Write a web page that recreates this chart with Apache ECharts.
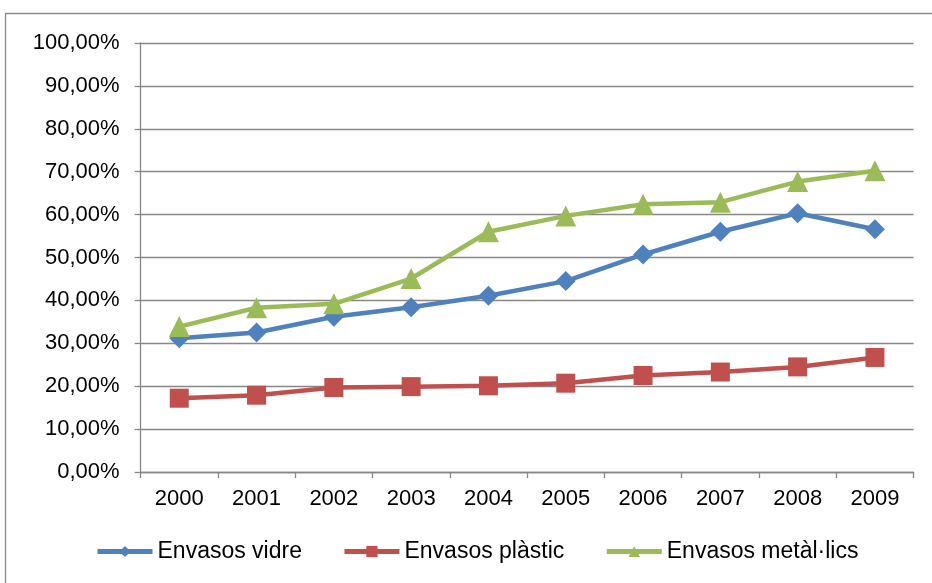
<!DOCTYPE html>
<html>
<head>
<meta charset="utf-8">
<script src="https://cdn.jsdelivr.net/npm/echarts@6/dist/echarts.min.js"></script>
<style>
  html, body { margin: 0; padding: 0; background: #fff; }
  #chart { width: 932px; height: 583px; }
</style>
</head>
<body>
<div id="chart"></div>
<script>
// Years on the category axis
const years = ['2000', '2001', '2002', '2003', '2004', '2005', '2006', '2007', '2008', '2009'];

// Recycling rates (%) per packaging type
const vidre   = [31.2, 32.5, 36.2, 38.4, 41.1, 44.5, 50.7, 56.0, 60.3, 56.6];
const plastic = [17.2, 17.9, 19.7, 19.9, 20.1, 20.7, 22.5, 23.3, 24.5, 26.7];
const metalics = [33.9, 38.3, 39.2, 45.1, 56.0, 59.7, 62.4, 62.9, 67.7, 70.2];

const seriesNames = ['Envasos vidre', 'Envasos plàstic', 'Envasos metàl·lics'];

const FONT = '"Liberation Sans", Arial, sans-serif';
const GRID_COLOR = '#878787';

const chart = echarts.init(document.getElementById('chart'), null, { renderer: 'canvas' });

function lineSeries(name, data, color, symbol, size) {
  return {
    name: name,
    type: 'line',
    data: data,
    symbol: symbol,
    symbolSize: size,
    showAllSymbol: true,
    lineStyle: { color: color, width: 4.5 },
    itemStyle: { color: color },
    emphasis: { disabled: true },
    animation: false
  };
}

chart.setOption({
  animation: false,
  backgroundColor: '#fff',
  graphic: [{
    type: 'rect',
    shape: { x: 5.5, y: 13.5, width: 940, height: 600 },
    style: { fill: 'none', stroke: '#8a8a8a', lineWidth: 1.3 },
    silent: true
  }],
  grid: { left: 140.6, right: 18.4, top: 43, bottom: 111, containLabel: false },
  legend: {
    data: seriesNames,
    left: 95,
    top: 540,
    padding: 0,
    itemWidth: 55,
    itemHeight: 14,
    itemGap: 40,
    lineStyle: { width: 5 },
    textStyle: { fontFamily: FONT, fontSize: 23, color: '#000' }
  },
  xAxis: {
    type: 'category',
    data: years,
    boundaryGap: true,
    axisLine: { lineStyle: { color: GRID_COLOR, width: 1.3 } },
    axisTick: { show: true, alignWithLabel: false, length: 6, lineStyle: { color: GRID_COLOR, width: 1.3 } },
    axisLabel: { fontFamily: FONT, fontSize: 22, color: '#000', margin: 16 }
  },
  yAxis: {
    type: 'value',
    min: 0,
    max: 100,
    interval: 10,
    axisLine: { show: true, lineStyle: { color: GRID_COLOR, width: 1.3 } },
    axisTick: { show: true, length: 6, lineStyle: { color: GRID_COLOR, width: 1.3 } },
    splitLine: { show: true, lineStyle: { color: GRID_COLOR, width: 1.3 } },
    axisLabel: {
      fontFamily: FONT, fontSize: 22, color: '#000', margin: 21,
      formatter: v => v.toFixed(2).replace('.', ',') + '%'
    }
  },
  series: [
    lineSeries(seriesNames[0], vidre, '#4F81BD', 'diamond', 20),
    lineSeries(seriesNames[1], plastic, '#C0504D', 'rect', 19),
    lineSeries(seriesNames[2], metalics, '#9BBB59', 'triangle', 21)
  ]
});
</script>
</body>
</html>
